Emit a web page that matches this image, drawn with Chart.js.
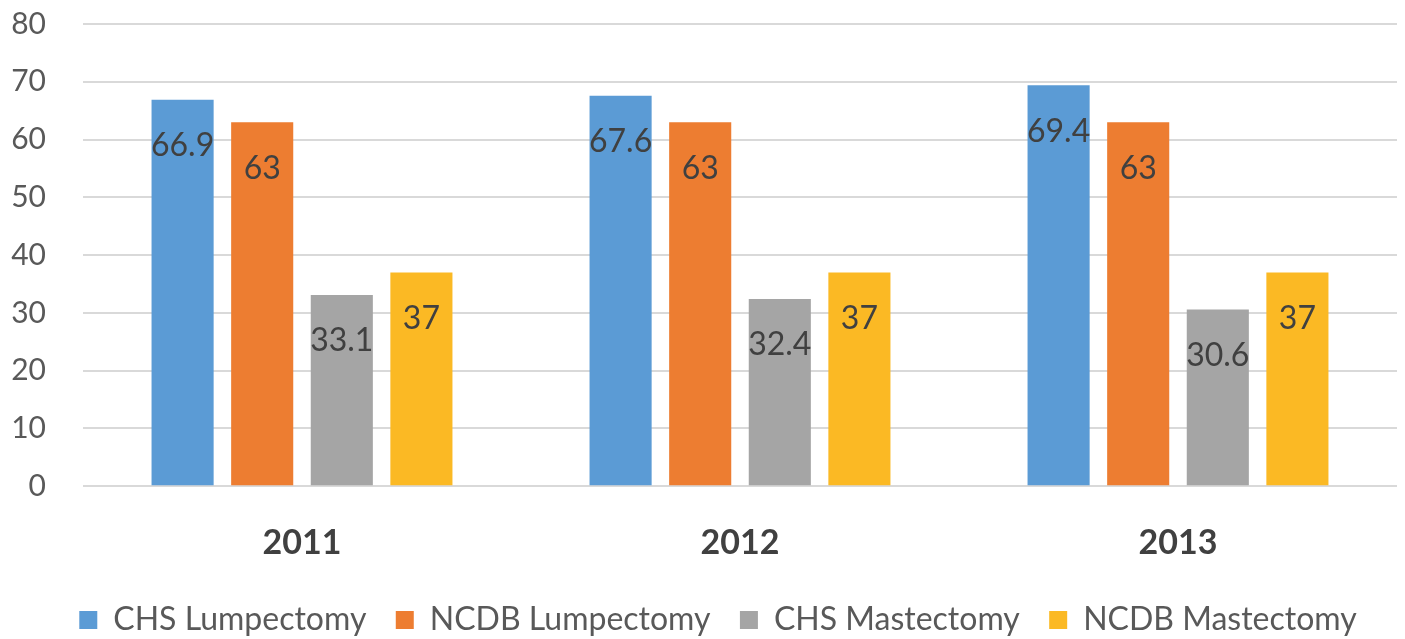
<!DOCTYPE html>
<html>
<head>
<meta charset="utf-8">
<script src="https://cdn.jsdelivr.net/npm/chart.js@4/dist/chart.umd.min.js"></script>
<style>
  html, body { margin: 0; padding: 0; background: #fff; }
  #wrap { width: 1405px; height: 639px; }
</style>
</head>
<body>
<div id="wrap"><canvas id="chart" width="1405" height="639"></canvas></div>
<script>
// chart data
var years = ['2011', '2012', '2013'];
var chsLumpectomy = [66.9, 67.6, 69.4];
var ncdbLumpectomy = [63, 63, 63];
var chsMastectomy = [33.1, 32.4, 30.6];
var ncdbMastectomy = [37, 37, 37];
var yTicks = [0, 10, 20, 30, 40, 50, 60, 70, 80];

var FONT = 'Lato, "Open Sans", sans-serif';

// draws the value inside each bar, near its top
var barLabels = {
    id: 'barLabels',
    afterDatasetsDraw: function (chart) {
        var ctx = chart.ctx;
        ctx.save();
        ctx.font = '32px ' + FONT;
        ctx.fillStyle = '#404040';
        ctx.textAlign = 'center';
        ctx.textBaseline = 'middle';
        chart.data.datasets.forEach(function (ds, i) {
            var meta = chart.getDatasetMeta(i);
            meta.data.forEach(function (bar, j) {
                ctx.fillText(String(ds.data[j]), bar.x, bar.y + 46);
            });
        });
        ctx.restore();
    }
};

function makeSet(label, values, color) {
    return {
        label: label,
        data: values,
        backgroundColor: color,
        borderWidth: 0,
        categoryPercentage: 0.727,
        barPercentage: 0.78
    };
}

var ctx = document.getElementById('chart').getContext('2d');
var chart = new Chart(ctx, {
    type: 'bar',
    data: {
        labels: years,
        datasets: [
            makeSet('CHS Lumpectomy', chsLumpectomy, '#5b9bd5'),
            makeSet('NCDB Lumpectomy', ncdbLumpectomy, '#ed7d31'),
            makeSet('CHS Mastectomy', chsMastectomy, '#a5a5a5'),
            makeSet('NCDB Mastectomy', ncdbMastectomy, '#fbb924')
        ]
    },
    options: {
        responsive: false,
        animation: false,
        layout: { padding: { top: 0, right: 8, bottom: -7, left: 39 } },
        plugins: {
            tooltip: { enabled: false },
            legend: {
                position: 'bottom',
                labels: {
                    font: { family: FONT, size: 32 },
                    color: '#595959',
                    boxWidth: 18,
                    boxHeight: 18,
                    padding: 13,
                    // extra room between items without a taller legend box
                    generateLabels: function (chart) {
                        var items = Chart.defaults.plugins.legend.labels.generateLabels(chart);
                        items.forEach(function (it, i) {
                            if (i < items.length - 1) it.text = it.text + '  ';
                        });
                        return items;
                    }
                }
            }
        },
        scales: {
            x: {
                grid: { display: false },
                border: { display: false },
                ticks: {
                    font: { family: FONT, size: 34, weight: 'bold' },
                    color: '#404040',
                    padding: 28
                }
            },
            y: {
                min: 0,
                max: 80,
                afterBuildTicks: function (axis) {
                    axis.ticks = yTicks.map(function (v) { return { value: v }; });
                },
                // tick padding is also added above the axis; keep the top tight
                afterFit: function (axis) {
                    axis.paddingTop = 24;
                    axis.width = 44;
                    // labels may reach past the narrow axis box, don't clip them
                    axis._computeLabelArea = function () { return null; };
                },
                grid: { color: '#d9d9d9', lineWidth: 2, drawTicks: false },
                border: { display: false },
                ticks: {
                    font: { family: FONT, size: 30 },
                    color: '#595959',
                    padding: 37
                }
            }
        }
    },
    plugins: [barLabels]
});
</script>
</body>
</html>
